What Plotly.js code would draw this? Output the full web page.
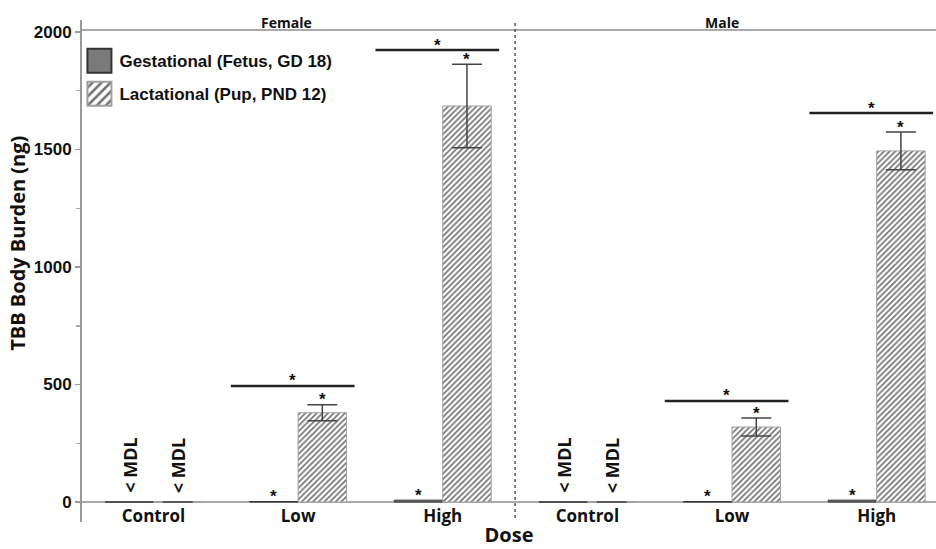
<!DOCTYPE html>
<html>
<head>
<meta charset="utf-8">
<script src="https://cdn.plot.ly/plotly-3.0.1.min.js"></script>
<style>html,body{margin:0;padding:0;background:#fff;}</style>
</head>
<body>
<div id="chart" style="width:936px;height:549px;"></div>
<script>
// ---- data ----
const categories = ['Control', 'Low', 'High', 'Control', 'Low', 'High'];
const panels = ['Female', 'Male'];
const gestational = [0, 2, 8, 0, 2, 8];
const lactational = [0, 380, 1685, 0, 319, 1494];
const lactError = [0, 34, 178, 0, 38, 80];
const gestBelowMDL = [true, false, false, true, false, false];
const lactBelowMDL = [true, false, false, true, false, false];
const gestSignif = [false, true, true, false, true, true];
const lactSignif = [false, true, true, false, true, true];
const groupSignifY = [null, 494, 1923, null, 430, 1655];
const yTickVals = [0, 500, 1000, 1500, 2000];
const seriesNames = ['Gestational (Fetus, GD 18)', 'Lactational (Pup, PND 12)'];

const xpos = categories.map((c, i) => i);
const bargap = 0.33;
const barW = (1 - bargap) / 2;

const boldOpen = {family: 'Open Sans, Arial, sans-serif', weight: 'bold', color: '#111'};
const boldArial = {family: 'Liberation Sans, Arial, sans-serif', weight: 'bold', color: '#111'};

const traces = [
  {
    type: 'bar', name: seriesNames[0], x: xpos, y: gestational,
    legendgroup: 'g',
    marker: {color: '#7a7a7a', line: {color: '#333', width: 1}},
    hoverinfo: 'skip'
  },
  {
    type: 'bar', name: seriesNames[1], x: xpos, y: lactational,
    legendgroup: 'l',
    marker: {color: '#ffffff', line: {color: '#a0a0a0', width: 1},
             pattern: {shape: '/', fgcolor: '#707070', bgcolor: '#ffffff', size: 4, solidity: 0.4}},
    error_y: {type: 'data', array: lactError, visible: true, color: '#444', thickness: 1.5, width: 15},
    hoverinfo: 'skip'
  }
];

const annotations = [];
const shapes = [];
const star = (x, y, yref) => ({x: x, y: y, xref: 'x', yref: yref || 'y', text: '*', showarrow: false,
  font: Object.assign({size: 17}, boldArial), yanchor: 'middle', yshift: 5});
const mdl = (x) => ({x: x, y: 0, xref: 'x', yref: 'y', text: '< MDL', textangle: -90,
  showarrow: false, yanchor: 'bottom', yshift: 7, font: Object.assign({size: 18}, boldOpen)});

xpos.forEach((x, i) => {
  const xg = x - barW / 2, xl = x + barW / 2;
  if (gestBelowMDL[i]) annotations.push(mdl(xg));
  if (lactBelowMDL[i]) annotations.push(mdl(xl));
  if (gestSignif[i]) annotations.push(star(xg, gestational[i]));
  if (lactSignif[i]) annotations.push(star(xl, lactational[i] + lactError[i]));
  if (groupSignifY[i] !== null) {
    const x0 = x - 0.465, x1 = x + 0.39;
    shapes.push({type: 'line', xref: 'x', yref: 'y', x0: x0, x1: x1, y0: groupSignifY[i], y1: groupSignifY[i],
      line: {color: '#222', width: 2.5}});
    annotations.push(star((x0 + x1) / 2, groupSignifY[i]));
  }
});

// facet strip labels
annotations.push({x: 0.92, y: 0.996, xref: 'x', yref: 'paper', text: panels[0], showarrow: false,
  yanchor: 'middle', font: Object.assign({size: 14}, boldOpen)});
annotations.push({x: 3.93, y: 0.996, xref: 'x', yref: 'paper', text: panels[1], showarrow: false,
  yanchor: 'middle', font: Object.assign({size: 14}, boldOpen)});
// y title
annotations.push({x: -0.075, y: 0.556, xref: 'paper', yref: 'paper', text: 'TBB Body Burden (ng)',
  textangle: -90, showarrow: false, xanchor: 'center', yanchor: 'middle', font: Object.assign({size: 20}, boldOpen)});

// strip line
shapes.push({type: 'line', xref: 'paper', yref: 'paper', x0: 0, x1: 1, y0: 0.980, y1: 0.980,
  line: {color: '#aaaaaa', width: 2}});
// facet divider
shapes.push({type: 'line', xref: 'x', yref: 'paper', x0: 2.5, x1: 2.5, y0: 0.008, y1: 1.0,
  line: {color: '#555', width: 1.5, dash: 'dot'}});

const layout = {
  width: 936, height: 549,
  margin: {l: 82, r: 0, t: 20, b: 27},
  paper_bgcolor: '#fff', plot_bgcolor: '#fff',
  barmode: 'group', bargap: bargap, bargroupgap: 0,
  showlegend: true,
  legend: {x: -0.003, y: 0.954, xanchor: 'left', yanchor: 'top', bgcolor: 'rgba(0,0,0,0)',
           font: Object.assign({size: 17}, boldArial), traceorder: 'grouped', tracegroupgap: 8},
  xaxis: {
    range: [-0.494, 5.41], tickvals: xpos, ticktext: categories,
    anchor: 'free', position: 0.036, showline: false, ticks: '', showgrid: false, zeroline: false,
    tickfont: Object.assign({size: 17}, boldOpen),
    title: {text: 'Dose', font: Object.assign({size: 20}, boldOpen), standoff: 2}
  },
  yaxis: {
    range: [-85, 2051], tickvals: yTickVals, ticks: 'outside', ticklen: 5, tickcolor: '#999', tickwidth: 1.5,
    minor: {dtick: 250, tick0: 0, ticks: 'outside', ticklen: 4, tickcolor: '#aaa'},
    showline: true, linecolor: '#999', linewidth: 2, showgrid: false,
    zeroline: true, zerolinecolor: '#aaaaaa', zerolinewidth: 2,
    tickfont: Object.assign({size: 17}, boldArial)
  },
  annotations: annotations,
  shapes: shapes
};

Plotly.newPlot('chart', traces, layout, {displayModeBar: false, staticPlot: true}).then(gd => {
  gd.querySelectorAll('.legendpoints path').forEach(p => {
    p.setAttribute('transform', (p.getAttribute('transform') || '') + ' scale(2)');
  });
});
</script>
</body>
</html>
